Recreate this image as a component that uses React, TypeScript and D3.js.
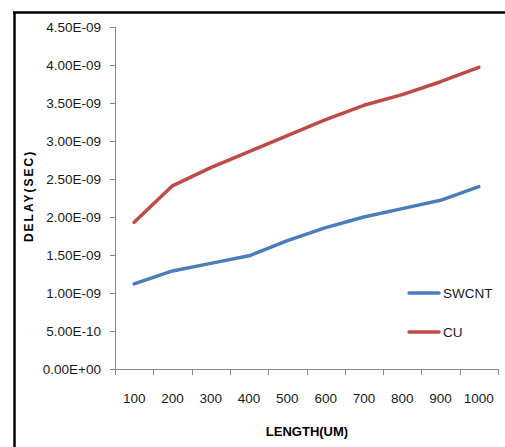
import React from "react";
import * as d3 from "d3";

const lengths = ["100", "200", "300", "400", "500", "600", "700", "800", "900", "1000"];
const swcnt = [1.12e-9, 1.29e-9, 1.39e-9, 1.49e-9, 1.69e-9, 1.86e-9, 2.0e-9, 2.11e-9, 2.22e-9, 2.4e-9];
const cu = [1.93e-9, 2.41e-9, 2.65e-9, 2.86e-9, 3.07e-9, 3.28e-9, 3.47e-9, 3.61e-9, 3.78e-9, 3.97e-9];
const yTicks = [0, 0.5e-9, 1.0e-9, 1.5e-9, 2.0e-9, 2.5e-9, 3.0e-9, 3.5e-9, 4.0e-9, 4.5e-9];
const seriesNames = ["SWCNT", "CU"];
const seriesColors = ["#4a7ebb", "#be4b48"];

function fmt(v: number): string {
  if (v === 0) return "0.00E+00";
  const s = v.toExponential(2); // e.g. 4.50e-9
  const [m, e] = s.split("e");
  const n = parseInt(e, 10);
  const sign = n < 0 ? "-" : "+";
  const abs = Math.abs(n).toString().padStart(2, "0");
  return `${m}E${sign}${abs}`;
}

export default function App() {
  const W = 505, H = 447;
  const left = 115, right = 498, top = 27, bottom = 369;
  const x = d3.scaleBand<string>().domain(lengths).range([left, right]).padding(0);
  const y = d3.scaleLinear().domain([0, 4.5e-9]).range([bottom, top]);
  const line = d3
    .line<number>()
    .x((_, i) => (x(lengths[i]) as number) + x.bandwidth() / 2)
    .y((d) => y(d));
  const series = [swcnt, cu];
  const font = "'Liberation Sans', Arial, sans-serif";
  const axisColor = "#868686";

  return (
    <svg
      width={W}
      height={H}
      style={{ position: "absolute", left: 0, top: 0, background: "#fff" }}
      fontFamily={font}
    >
      <rect x={0} y={0} width={W} height={H} fill="#fff" />
      {/* frame */}
      <line x1={14.5} y1={12} x2={14.5} y2={H} stroke="#000" strokeWidth={2.5} />
      <line x1={13} y1={12.5} x2={W} y2={12.5} stroke="#000" strokeWidth={2.5} />

      {/* y axis */}
      <line x1={left + 0.5} y1={top} x2={left + 0.5} y2={bottom} stroke={axisColor} strokeWidth={1} />
      {yTicks.map((t) => (
        <g key={t}>
          <line x1={left - 5} x2={left} y1={Math.round(y(t)) + 0.5} y2={Math.round(y(t)) + 0.5} stroke={axisColor} />
          <text x={101} y={y(t)} dy="0.35em" textAnchor="end" fontSize={13.5} fill="#1a1a1a">
            {fmt(t)}
          </text>
        </g>
      ))}

      {/* x axis */}
      <line x1={left} y1={bottom + 0.5} x2={right} y2={bottom + 0.5} stroke={axisColor} strokeWidth={1} />
      {[...lengths.map((l) => x(l) as number), right].map((px, i) => (
        <line key={i} x1={Math.round(px) + 0.5} x2={Math.round(px) + 0.5} y1={bottom} y2={bottom + 6} stroke={axisColor} />
      ))}
      {lengths.map((l) => (
        <text
          key={l}
          x={(x(l) as number) + x.bandwidth() / 2}
          y={398}
          dy="0.35em"
          textAnchor="middle"
          fontSize={13.5}
          fill="#1a1a1a"
        >
          {l}
        </text>
      ))}

      {/* series */}
      {series.map((s, i) => (
        <path
          key={seriesNames[i]}
          d={line(s) as string}
          fill="none"
          stroke={seriesColors[i]}
          strokeWidth={3.5}
          strokeLinejoin="round"
          strokeLinecap="round"
        />
      ))}

      {/* legend */}
      {seriesNames.map((n, i) => (
        <g key={n} transform={`translate(0, ${293 + i * 39})`}>
          <line x1={409} x2={439} y1={0} y2={0} stroke={seriesColors[i]} strokeWidth={3.5} strokeLinecap="round" />
          <text x={443} y={0} dy="0.35em" fontSize={13.5} fill="#1a1a1a">
            {n}
          </text>
        </g>
      ))}

      {/* axis titles */}
      <text x={307} y={431} dy="0.35em" textAnchor="middle" fontSize={13} fontWeight="bold" fill="#000">
        LENGTH(UM)
      </text>
      <text
        transform="translate(29, 196) rotate(-90)"
        textAnchor="middle"
        dy="0.35em"
        fontSize={12}
        fontWeight="bold"
        letterSpacing={2}
        fill="#000"
      >
        DELAY(SEC)
      </text>
    </svg>
  );
}
